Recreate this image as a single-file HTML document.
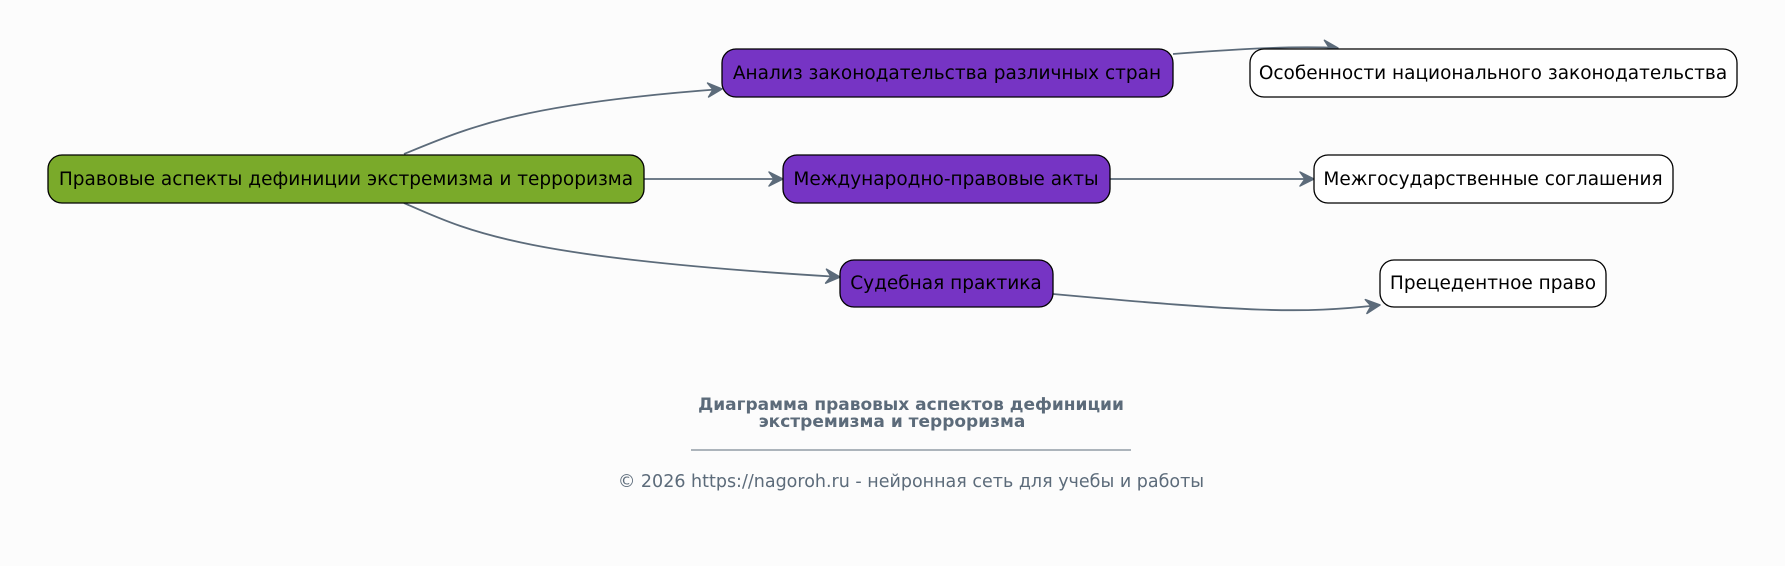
<!DOCTYPE html>
<html><head><meta charset="utf-8"><style>
html,body{margin:0;padding:0;background:#fcfcfc;}
svg{display:block;}
text{font-family:"DejaVu Sans","Liberation Sans",sans-serif;}
</style></head><body>
<svg width="1785" height="566" viewBox="0 0 1785 566" xmlns="http://www.w3.org/2000/svg">
<rect width="1785" height="566" fill="#fcfcfc"/>
<defs>
<marker id="a" markerWidth="20" markerHeight="20" refX="17" refY="10" orient="auto" markerUnits="userSpaceOnUse">
<path d="M3,3 L17,10 L3,17 L8,10 Z" fill="#5c6b7a" stroke="#5c6b7a" stroke-width="1.5" stroke-linejoin="round"/>
</marker>
</defs>
<g fill="none" stroke="#5c6b7a" stroke-width="1.8" marker-end="url(#a)">
<path d="M404,154 C470,127 520,104 722,89"/>
<path d="M644,179 L783,179"/>
<path d="M404,203 C470,232 520,258 840,277"/>
<path d="M1173,54 C1250,48 1300,46 1338,48"/>
<path d="M1110,179 L1314,179"/>
<path d="M1053,294 C1250,312 1300,314 1380,305"/>
</g>
<g stroke="#000" stroke-width="1.3">
<rect x="48" y="155" width="596" height="48" rx="14" fill="#7aaa2a"/>
<rect x="722" y="49" width="451" height="48" rx="14" fill="#7634c4"/>
<rect x="783" y="155" width="327" height="48" rx="14" fill="#7634c4"/>
<rect x="840" y="260" width="213" height="47" rx="14" fill="#7634c4"/>
<rect x="1250" y="49" width="487" height="48" rx="14" fill="#fff"/>
<rect x="1314" y="155" width="359" height="48" rx="14" fill="#fff"/>
<rect x="1380" y="260" width="226" height="47" rx="14" fill="#fff"/>
</g>
<g font-size="18.5" fill="#000" text-anchor="middle">
<text x="346" y="185">Правовые аспекты дефиниции экстремизма и терроризма</text>
<text x="947" y="79">Анализ законодательства различных стран</text>
<text x="946" y="185">Международно-правовые акты</text>
<text x="946" y="289">Судебная практика</text>
<text x="1493" y="79">Особенности национального законодательства</text>
<text x="1493" y="185">Межгосударственные соглашения</text>
<text x="1493" y="289">Прецедентное право</text>
</g>
<g fill="#5c6b7a" text-anchor="middle">
<text x="911" y="410" font-size="17" font-weight="bold">Диаграмма правовых аспектов дефиниции</text>
<text x="892" y="427" font-size="17" font-weight="bold">экстремизма и терроризма</text>
<line x1="691" y1="450" x2="1131" y2="450" stroke="#5c6b7a" stroke-width="1"/>
<text x="911" y="487" font-size="17.5">© 2026 https://nagoroh.ru - нейронная сеть для учебы и работы</text>
</g>
</svg>
</body></html>
